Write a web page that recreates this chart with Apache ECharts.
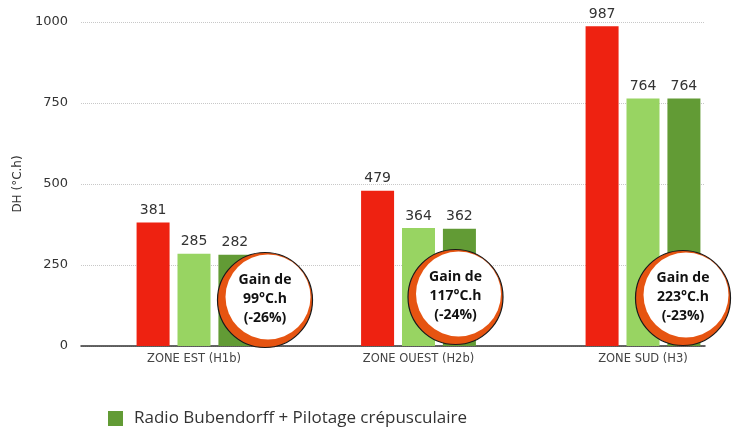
<!DOCTYPE html>
<html><head><meta charset="utf-8">
<script src="https://cdn.jsdelivr.net/npm/echarts@6/dist/echarts.min.js"></script>
<style>html,body{margin:0;padding:0;background:#fff}#c{width:737px;height:428px}</style>
</head><body><div id="c"></div>
<script>
const categories = ['ZONE EST (H1b)', 'ZONE OUEST (H2b)', 'ZONE SUD (H3)'];
const seriesNames = ['Sans radio', 'Radio Bubendorff', 'Radio Bubendorff + Pilotage crépusculaire'];
const valuesRef = [381, 479, 987];
const valuesRadio = [285, 364, 764];
const valuesPilot = [282, 362, 764];
const yTicks = [0, 250, 500, 750, 1000];
const gainLabels = ['Gain de\n99°C.h\n(-26%)', 'Gain de\n117°C.h\n(-24%)', 'Gain de\n223°C.h\n(-23%)'];

// annotation badge placement (pixel offsets from category centre on the baseline)
const badgeOffsets = [[71, -46], [37, -49], [40, -48]];

const chart = echarts.init(document.getElementById('c'), null, {renderer: 'canvas'});
const numFont = '"DejaVu Sans", sans-serif';
const txtFont = '"Open Sans", sans-serif';
const labelCfg = {show: true, position: 'top', distance: 5, fontSize: 14, color: '#333', fontFamily: numFont};

chart.setOption({
  animation: false,
  backgroundColor: '#fff',
  grid: [
    {left: 81.75, width: 673.5, top: 22, bottom: 82, outerBoundsMode: 'none', containLabel: false},
    {left: 81, right: 32, top: 22, bottom: 82, outerBoundsMode: 'none', containLabel: false}
  ],
  legend: {
    data: [seriesNames[2]],
    left: 108, top: 410, padding: 0,
    icon: 'rect', itemWidth: 15, itemHeight: 15,
    textStyle: {fontSize: 17, fontFamily: txtFont, color: '#333', padding: [0, 0, 0, 6]}
  },
  xAxis: [
    {type: 'category', gridIndex: 0, data: categories,
     axisLine: {show: false}, axisTick: {show: false},
     axisLabel: {fontSize: 11.5, color: '#444', margin: 7, fontFamily: numFont}},
    {type: 'category', gridIndex: 1, data: categories,
     axisLine: {show: true, lineStyle: {color: '#333', width: 1.5}}, axisTick: {show: false},
     axisLabel: {show: false}}
  ],
  yAxis: [
    {type: 'value', gridIndex: 0, min: yTicks[0], max: yTicks[yTicks.length - 1], show: false, splitLine: {show: false}},
    {type: 'value', gridIndex: 1, min: yTicks[0], max: yTicks[yTicks.length - 1], interval: yTicks[1] - yTicks[0],
     axisLine: {show: false}, axisTick: {show: false},
     axisLabel: {fontSize: 13, color: '#333', margin: 13, fontFamily: numFont, formatter: v => String(v)},
     splitLine: {show: true, lineStyle: {color: '#c8c8c8', type: 'dotted', width: 1}},
     name: 'DH (°C.h)', nameLocation: 'middle', nameGap: 44,
     nameTextStyle: {fontSize: 12, color: '#333', fontFamily: numFont}}
  ],
  series: [
    {name: seriesNames[0], type: 'bar', xAxisIndex: 0, yAxisIndex: 0, data: valuesRef,
     barWidth: 33, barGap: '24%', itemStyle: {color: '#EE2211'}, label: labelCfg},
    {name: seriesNames[1], type: 'bar', xAxisIndex: 0, yAxisIndex: 0, data: valuesRadio,
     barWidth: 33, barGap: '24%', itemStyle: {color: '#98D462'}, label: labelCfg},
    {name: seriesNames[2], type: 'bar', xAxisIndex: 0, yAxisIndex: 0, data: valuesPilot,
     barWidth: 33, barGap: '24%', itemStyle: {color: '#629B35'}, label: labelCfg},
    {name: 'gain', type: 'custom', xAxisIndex: 0, yAxisIndex: 0, z: 10,
     data: categories.map((c, i) => [i, 0]),
     encode: {x: 0, y: 1},
     renderItem: function (params, api) {
       const i = api.value(0);
       const p = api.coord([i, 0]);
       const off = badgeOffsets[i];
       const cx = p[0] + off[0], cy = p[1] + off[1];
       return {type: 'group', children: [
         {type: 'circle', shape: {cx: cx, cy: cy, r: 47.5}, style: {fill: '#E65411', stroke: '#1a1a1a', lineWidth: 1.2}},
         {type: 'circle', shape: {cx: cx + 3, cy: cy - 3, r: 42.5}, style: {fill: '#ffffff'}},
         {type: 'text', style: {text: gainLabels[i], x: cx, y: cy - 1, align: 'center', verticalAlign: 'middle',
           fontSize: 14, fontWeight: 'bold', fontFamily: txtFont, lineHeight: 19, fill: '#111'}}
       ]};
     }}
  ]
});
</script>
</body></html>
